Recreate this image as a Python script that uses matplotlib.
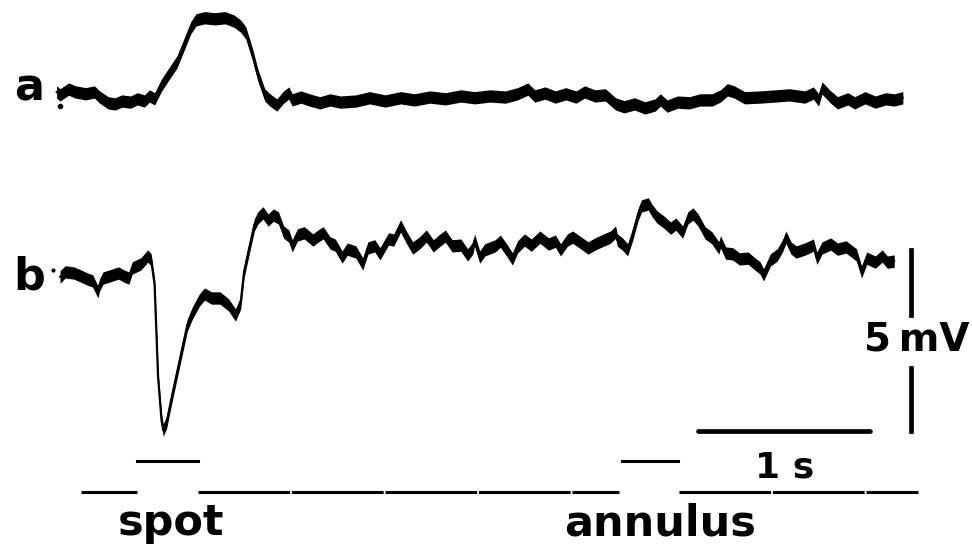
import numpy as np
import matplotlib
matplotlib.use("Agg")
import matplotlib.pyplot as plt

# trace a: response to spot (s, mV, baseline = 0)
t_a = [-0.02, 0.00, 0.05, 0.09, 0.15, 0.20, 0.23, 0.28, 0.32, 0.36, 0.41, 0.45, 0.49, 0.52, 0.55,
       0.59, 0.64, 0.68, 0.72, 0.76, 0.79, 0.84, 0.90, 0.96, 1.01, 1.05, 1.08, 1.12, 1.15, 1.19,
       1.22, 1.26, 1.30, 1.33, 1.35, 1.40, 1.45, 1.51, 1.57, 1.63, 1.72, 1.80, 1.89, 1.98, 2.06,
       2.15, 2.24, 2.33, 2.41, 2.50, 2.59, 2.66, 2.72, 2.76, 2.82, 2.88, 2.94, 3.00, 3.05, 3.11,
       3.17, 3.23, 3.28, 3.34, 3.40, 3.46, 3.49, 3.53, 3.59, 3.66, 3.72, 3.79, 3.84, 3.88, 3.92,
       3.98, 4.07, 4.16, 4.24, 4.33, 4.38, 4.41, 4.43, 4.48, 4.52, 4.58, 4.62, 4.68, 4.74, 4.80,
       4.85, 4.90]
v_a = [0.22, 0.14, 0.30, 0.22, 0.17, 0.22, 0.08, -0.08, -0.11, -0.03, -0.06, 0.03, -0.03, 0.11, 0.03,
       0.41, 0.77, 1.05, 1.52, 1.99, 2.21, 2.27, 2.24, 2.27, 2.18, 2.04, 1.85, 1.24, 0.69, 0.14,
       0.00, -0.14, 0.08, 0.19, 0.00, 0.08, 0.00, -0.08, 0.00, -0.06, -0.03, 0.06, -0.03, 0.06, 0.00,
       0.08, 0.03, 0.11, 0.06, 0.11, 0.08, 0.17, 0.30, 0.11, 0.19, 0.08, 0.17, 0.08, 0.22, 0.11,
       0.14, -0.11, -0.19, -0.11, -0.22, -0.14, 0.00, -0.17, -0.06, -0.08, 0.00, 0.00, 0.11, 0.28, 0.22,
       0.06, 0.08, 0.11, 0.14, 0.08, 0.19, 0.00, 0.33, 0.08, -0.08, 0.03, -0.08, 0.06, -0.06, 0.03,
       0.00, 0.06]

# trace b: response to spot then annulus (s, mV)
t_b = [0.00, 0.03, 0.08, 0.12, 0.16, 0.19, 0.22, 0.23, 0.25, 0.29, 0.34, 0.37, 0.40, 0.42, 0.47,
       0.51, 0.53, 0.55, 0.57, 0.59, 0.60, 0.62, 0.65, 0.70, 0.74, 0.77, 0.81, 0.84, 0.88, 0.93,
       0.98, 1.02, 1.05, 1.07, 1.10, 1.13, 1.15, 1.18, 1.21, 1.24, 1.27, 1.30, 1.33, 1.35, 1.38,
       1.42, 1.47, 1.50, 1.53, 1.57, 1.60, 1.64, 1.67, 1.72, 1.76, 1.79, 1.83, 1.86, 1.91, 1.94,
       1.98, 2.01, 2.05, 2.09, 2.13, 2.17, 2.21, 2.24, 2.28, 2.33, 2.37, 2.40, 2.41, 2.44, 2.47,
       2.53, 2.56, 2.60, 2.63, 2.66, 2.70, 2.74, 2.79, 2.84, 2.88, 2.91, 2.95, 2.98, 3.02, 3.07,
       3.11, 3.16, 3.20, 3.23, 3.24, 3.27, 3.30, 3.33, 3.36, 3.38, 3.42, 3.44, 3.47, 3.51, 3.55,
       3.58, 3.62, 3.65, 3.68, 3.71, 3.75, 3.79, 3.83, 3.84, 3.87, 3.91, 3.95, 4.00, 4.04, 4.07,
       4.09, 4.13, 4.17, 4.20, 4.22, 4.25, 4.28, 4.33, 4.38, 4.40, 4.43, 4.48, 4.52, 4.57, 4.63,
       4.66, 4.69, 4.74, 4.78, 4.81, 4.85]
v_b = [0.00, 0.14, 0.11, 0.03, -0.06, -0.11, -0.41, -0.22, -0.03, 0.03, 0.11, 0.03, -0.03, 0.25, 0.36,
       0.58, 0.47, -0.22, -2.76, -3.95, -4.23, -4.01, -3.31, -2.21, -1.33, -0.99, -0.64, -0.47, -0.58, -0.58,
       -0.77, -1.05, -0.72, 0.14, 0.80, 1.44, 1.63, 1.77, 1.57, 1.71, 1.63, 1.24, 1.13, 0.86, 1.16,
       1.22, 1.02, 1.13, 1.22, 0.94, 0.88, 0.55, 0.77, 0.69, 0.36, 0.80, 0.86, 0.64, 1.05, 1.02,
       1.41, 1.13, 0.80, 0.94, 1.13, 0.86, 1.02, 1.13, 0.86, 0.88, 0.61, 0.80, 1.02, 0.55, 0.75,
       0.86, 0.99, 0.72, 0.50, 0.83, 1.02, 0.88, 1.10, 0.91, 0.99, 0.75, 1.02, 1.10, 0.97, 0.80,
       0.91, 1.02, 1.10, 1.24, 1.02, 0.91, 0.75, 1.19, 1.71, 1.96, 2.02, 1.85, 1.66, 1.52, 1.35,
       1.46, 1.24, 1.63, 1.74, 1.57, 1.22, 1.08, 0.80, 0.97, 0.66, 0.64, 0.50, 0.52, 0.36, 0.25,
       0.06, 0.47, 0.61, 0.86, 1.10, 0.80, 0.69, 0.77, 0.88, 0.52, 0.80, 0.91, 0.77, 0.83, 0.61,
       0.14, 0.52, 0.41, 0.58, 0.41, 0.44]

# stimulus timing (s)
stim_span = (0.12, 4.99)
spot_on = (0.45, 0.80)
annulus_on = (3.27, 3.59)

# scale bars
time_bar = (3.71, 4.71)      # 1 s
volt_bar = (0.75, -4.25)     # 5 mV

offset_a = 4.89              # vertical shift of trace a
band = 0.34                  # thickness of the noisy trace (mV)
stim_low, stim_high = -5.94, -5.08

plt.rcParams["font.family"] = "DejaVu Sans"
fig = plt.figure(figsize=(9.72, 5.46), dpi=100)
ax = fig.add_axes([0, 0, 1, 1])
ax.set_xlim(-0.349, 5.302)
ax.set_ylim(-7.43, 7.65)
ax.axis("off")


def draw_trace(t, v, shift):
    t = np.asarray(t)
    v = np.asarray(v) + shift
    ax.fill_between(t, v - band / 2, v + band / 2, color="black", lw=0)
    ax.plot(t, v, color="black", lw=1.6, solid_capstyle="round")


draw_trace(t_a, v_a, offset_a)
draw_trace(t_b, v_b, 0.0)

# stimulus marker: low = off, raised = on
off_parts = [(stim_span[0], spot_on[0]), (spot_on[1], annulus_on[0] - 0.02), (annulus_on[1] + 0.01, stim_span[1])]
for t0, t1 in off_parts:
    ax.plot([t0, t1], [stim_low, stim_low], color="black", lw=2.2,
            linestyle=(0, (30, 0.6)), solid_capstyle="butt")
for t0, t1 in (spot_on, annulus_on):
    ax.plot([t0, t1], [stim_high, stim_high], color="black", lw=2.2)

# scale bars
ax.plot(time_bar, [-4.25, -4.25], color="black", lw=3.4, solid_capstyle="round")
ax.text(np.mean(time_bar), -5.55, "1 s", ha="center", va="baseline", fontsize=26, fontweight="bold")
ax.plot([4.95, 4.95], [volt_bar[0], -1.05], color="black", lw=3.4)
ax.plot([4.95, 4.95], [-2.51, volt_bar[1]], color="black", lw=3.4)
ax.text(4.98, -1.74, "5\u2009mV", ha="center", va="center", fontsize=28, fontweight="bold")

# trace labels
ax.text(-0.18, 5.22, "a", ha="center", va="center", fontsize=32, fontweight="bold")
ax.text(-0.18, 0.0, "b", ha="center", va="center", fontsize=32, fontweight="bold")
ax.plot([0.00], [offset_a - 0.17], "o", color="black", ms=3)
ax.plot([-0.04], [0.19], "o", color="black", ms=2)

ax.text(0.645, -7.13, "spot", ha="center", va="baseline", fontsize=31, fontweight="bold")
ax.text(3.49, -7.13, "annulus", ha="center", va="baseline", fontsize=31, fontweight="bold")

fig.savefig("out.png", dpi=100, facecolor="white")
